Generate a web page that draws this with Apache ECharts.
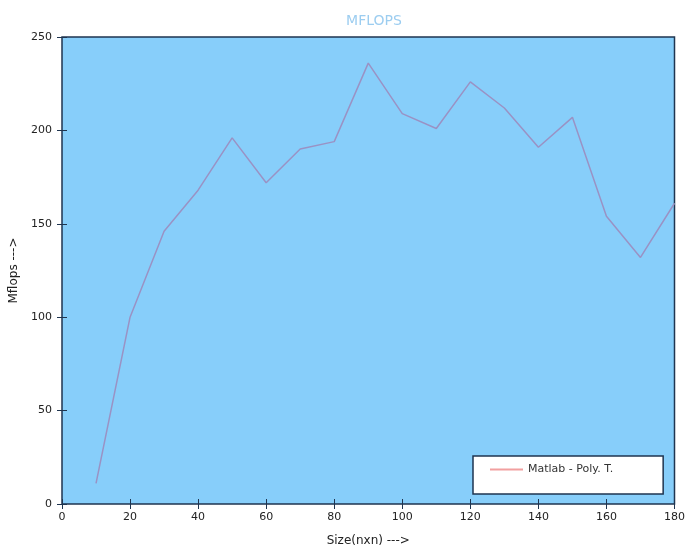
<!DOCTYPE html>
<html>
<head>
<meta charset="utf-8">
<script src="https://cdn.jsdelivr.net/npm/echarts@6/dist/echarts.min.js"></script>
<style>html,body{margin:0;padding:0;background:#fff}#c{width:688px;height:556px}</style>
</head>
<body>
<div id="c"></div>
<script>
const sizes = [10, 20, 30, 40, 50, 60, 70, 80, 90, 100, 110, 120, 130, 140, 150, 160, 170, 180];
const mflops = [11, 100, 146, 168, 196, 172, 190, 194, 236, 209, 201, 226, 212, 191, 207, 154, 132, 161];
const seriesName = 'Matlab - Poly. T.';
const titleText = 'MFLOPS';
const xName = 'Size(nxn) --->';
const yName = 'Mflops --->';

const font = 'DejaVu Sans';
const legendColor = '#f2a0a0';
const chart = echarts.init(document.getElementById('c'), null, {renderer: 'canvas'});
const axisCommon = {
  axisTick: {inside: true, length: 5, lineStyle: {color: '#1f3550'}},
  splitLine: {show: false},
  axisLine: {show: false}
};
chart.setOption({
  animation: false,
  title: {
    text: titleText, left: 369, top: 9, textAlign: 'center',
    textStyle: {color: '#9ccdf0', fontFamily: font, fontSize: 14, fontWeight: 'normal'}
  },
  grid: {
    left: 62, right: 12, top: 37, bottom: 52,
    show: true, backgroundColor: '#87cefa', borderColor: '#1f3550', borderWidth: 1.5
  },
  legend: {
    left: 473, top: 456,
    padding: [8, 50, 19, 17],
    backgroundColor: '#ffffff', borderColor: '#1f3550', borderWidth: 1.5, borderRadius: 0,
    itemWidth: 33, itemHeight: 2, itemGap: 5,
    textStyle: {fontFamily: font, fontSize: 11, color: '#333'},
    data: [{name: seriesName, icon: 'rect'}]
  },
  xAxis: [
    Object.assign({}, axisCommon, {
      type: 'value', min: 0, max: 180, interval: 20, position: 'bottom',
      name: xName, nameLocation: 'middle', nameGap: 31,
      nameTextStyle: {fontFamily: font, fontSize: 12, color: '#222'},
      axisLabel: {fontFamily: font, fontSize: 11, color: '#222', margin: 8}
    }),
    Object.assign({}, axisCommon, {
      type: 'value', min: 0, max: 180, interval: 20, position: 'top',
      axisLabel: {show: false}
    })
  ],
  yAxis: [
    Object.assign({}, axisCommon, {
      type: 'value', min: 0, max: 250, interval: 50, position: 'left',
      name: yName, nameLocation: 'middle', nameGap: 37, nameRotate: 90,
      nameTextStyle: {fontFamily: font, fontSize: 12, color: '#222'},
      axisLabel: {fontFamily: font, fontSize: 11, color: '#222', margin: 10}
    }),
    Object.assign({}, axisCommon, {
      type: 'value', min: 0, max: 250, interval: 50, position: 'right',
      axisLabel: {show: false}
    })
  ],
  series: [{
    name: seriesName, type: 'line',
    data: sizes.map((s, i) => [s, mflops[i]]),
    showSymbol: false, symbol: 'none',
    itemStyle: {color: legendColor},
    lineStyle: {color: '#9a92c4', width: 1.5}
  }]
});
</script>
</body>
</html>
